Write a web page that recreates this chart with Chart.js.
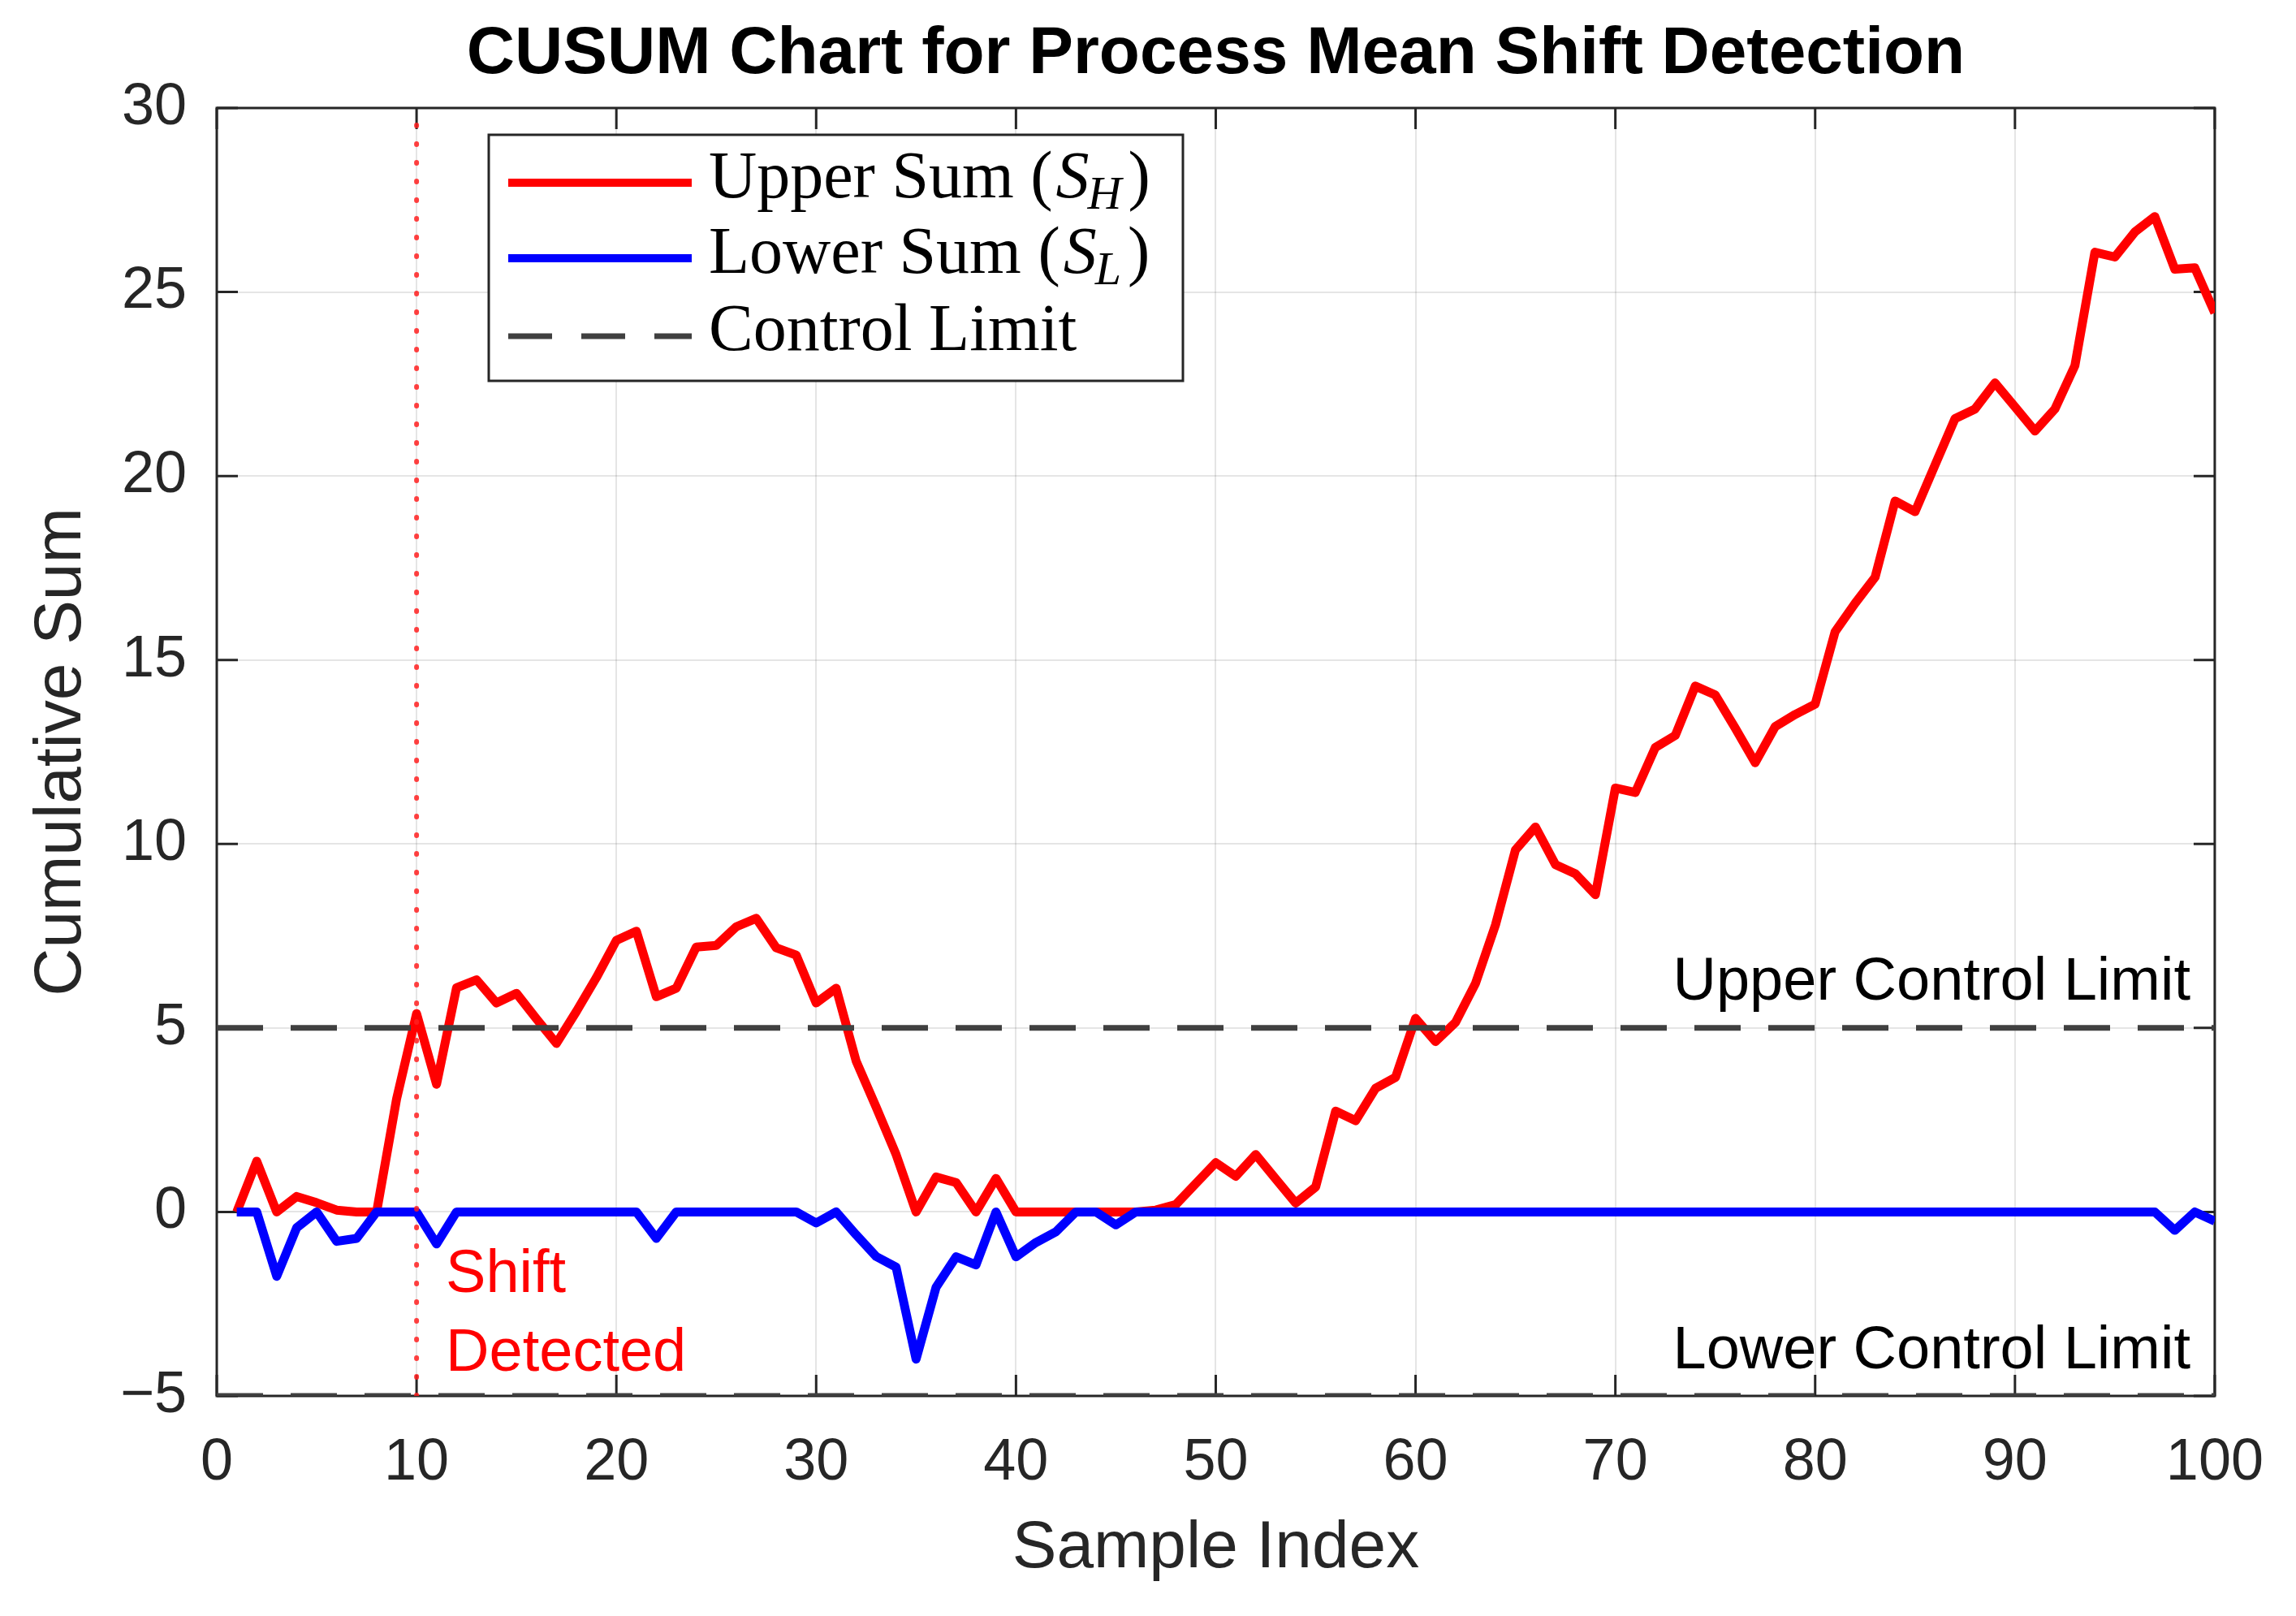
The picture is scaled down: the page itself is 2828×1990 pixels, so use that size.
<!DOCTYPE html>
<html>
<head>
<meta charset="utf-8">
<title>CUSUM Chart for Process Mean Shift Detection</title>
<script src="https://cdn.jsdelivr.net/npm/chart.js@4.4.1/dist/chart.umd.min.js"></script>
<style>
  html, body { margin: 0; padding: 0; background: #fff; }
  canvas { display: block; }
</style>
</head>
<body>
<canvas id="cusum" width="2828" height="1990"></canvas>
<script>
// sample index (x) and the two cumulative sums
const sampleIndex = Array.from({ length: 100 }, (_, i) => i + 1);

const upperSum = [
  0, 1.38, 0, 0.42, 0.25, 0.05, 0, 0, 3.07, 5.39,
  3.47, 6.09, 6.31, 5.68, 5.94, 5.25, 4.58, 5.45, 6.37, 7.38,
  7.63, 5.85, 6.08, 7.20, 7.24, 7.75, 7.98, 7.18, 6.98, 5.68,
  6.08, 4.10, 2.85, 1.56, 0, 0.95, 0.80, 0, 0.91, 0,
  0, 0, 0, 0, 0, 0, 0.05, 0.20, 0.77, 1.34,
  0.97, 1.56, 0.90, 0.24, 0.68, 2.74, 2.48, 3.36, 3.66, 5.26,
  4.63, 5.15, 6.21, 7.80, 9.84, 10.46, 9.44, 9.19, 8.62, 11.52,
  11.40, 12.62, 12.95, 14.29, 14.05, 13.15, 12.21, 13.19, 13.52, 13.80,
  15.77, 16.54, 17.25, 19.32, 19.03, 20.30, 21.56, 21.82, 22.53, 21.88,
  21.22, 21.82, 23.00, 26.08, 25.95, 26.63, 27.05, 25.62, 25.66, 24.43
];

const lowerSum = [
  0, 0, -1.75, -0.43, 0, -0.80, -0.72, 0, 0, 0,
  -0.87, 0, 0, 0, 0, 0, 0, 0, 0, 0,
  0, -0.72, 0, 0, 0, 0, 0, 0, 0, -0.30,
  0, -0.62, -1.21, -1.50, -4.00, -2.05, -1.22, -1.44, 0, -1.22,
  -0.83, -0.54, 0, 0, -0.35, 0, 0, 0, 0, 0,
  0, 0, 0, 0, 0, 0, 0, 0, 0, 0,
  0, 0, 0, 0, 0, 0, 0, 0, 0, 0,
  0, 0, 0, 0, 0, 0, 0, 0, 0, 0,
  0, 0, 0, 0, 0, 0, 0, 0, 0, 0,
  0, 0, 0, 0, 0, 0, 0, -0.50, 0, -0.25
];

const controlLimit = 5;
const shiftSample = 10;
const xTicks = [0, 10, 20, 30, 40, 50, 60, 70, 80, 90, 100];
const yTicks = [-5, 0, 5, 10, 15, 20, 25, 30];

const axisColor = '#262626';
const sans = '"Liberation Sans", Arial, Helvetica, sans-serif';
const serif = '"Liberation Serif", "Times New Roman", serif';

const toPoints = (ys) => ys.map((y, i) => ({ x: sampleIndex[i], y: y }));
const xMin = xTicks[0], xMax = xTicks[xTicks.length - 1];

// box, inward ticks, title, legend and text notes, drawn around the library's scales
const matlabFrame = {
  id: 'matlabFrame',
  beforeDatasetsDraw(chart) {
    const { ctx, chartArea: a, scales: { x, y } } = chart;
    const tl = 26;
    ctx.save();
    ctx.strokeStyle = axisColor;
    ctx.lineWidth = 3;
    ctx.beginPath();
    xTicks.forEach(v => {
      const px = x.getPixelForValue(v);
      ctx.moveTo(px, a.bottom); ctx.lineTo(px, a.bottom - tl);
      ctx.moveTo(px, a.top); ctx.lineTo(px, a.top + tl);
    });
    yTicks.forEach(v => {
      const py = y.getPixelForValue(v);
      ctx.moveTo(a.left, py); ctx.lineTo(a.left + tl, py);
      ctx.moveTo(a.right, py); ctx.lineTo(a.right - tl, py);
    });
    ctx.stroke();
    ctx.strokeRect(a.left, a.top, a.right - a.left, a.bottom - a.top);
    ctx.restore();
  },
  afterDraw(chart) {
    const { ctx, chartArea: a, scales: { x, y } } = chart;
    ctx.save();

    // title, centred over the axes like MATLAB does
    ctx.font = 'bold 82px ' + sans;
    ctx.fillStyle = '#000';
    ctx.textAlign = 'center';
    ctx.textBaseline = 'middle';
    ctx.fillText('CUSUM Chart for Process Mean Shift Detection', (a.left + a.right) / 2, a.top - 66);

    // notes on the plot
    ctx.font = '74px ' + sans;
    ctx.textBaseline = 'alphabetic';
    ctx.textAlign = 'right';
    ctx.fillText('Upper Control Limit', x.getPixelForValue(xMax) - 30, y.getPixelForValue(controlLimit) - 35);
    ctx.fillText('Lower Control Limit', x.getPixelForValue(xMax) - 30, y.getPixelForValue(-controlLimit) - 34);
    ctx.textAlign = 'left';
    ctx.fillStyle = '#ff0000';
    const sx = x.getPixelForValue(shiftSample) + 36;
    ctx.fillText('Shift', sx, y.getPixelForValue(-controlLimit) - 128);
    ctx.fillText('Detected', sx, y.getPixelForValue(-controlLimit) - 31);

    // legend
    const left = a.left + 335, top = a.top + 33, w = 855, h = 303;
    ctx.fillStyle = '#fff';
    ctx.fillRect(left, top, w, h);
    ctx.lineWidth = 3;
    ctx.strokeStyle = axisColor;
    ctx.strokeRect(left, top, w, h);

    const rows = [
      { color: '#ff0000', dash: [], width: 10, ly: 59, by: 77, label: 'Upper Sum', sub: 'H' },
      { color: '#0000ff', dash: [], width: 10, ly: 152, by: 170, label: 'Lower Sum', sub: 'L' },
      { color: '#404040', dash: [54, 36], width: 7, ly: 248, by: 265, label: 'Control Limit', sub: null }
    ];
    rows.forEach(r => {
      ctx.beginPath();
      ctx.setLineDash(r.dash);
      ctx.lineCap = 'butt';
      ctx.strokeStyle = r.color;
      ctx.lineWidth = r.width;
      ctx.moveTo(left + 24, top + r.ly);
      ctx.lineTo(left + 250, top + r.ly);
      ctx.stroke();
      ctx.setLineDash([]);

      let tx = left + 271;
      const ty = top + r.by;
      ctx.fillStyle = '#000';
      ctx.textAlign = 'left';
      ctx.font = '82px ' + serif;
      if (!r.sub) {
        ctx.fillText(r.label, tx, ty);
        return;
      }
      const head = r.label + ' (';
      ctx.fillText(head, tx, ty);
      tx += ctx.measureText(head).width + 4;
      ctx.font = 'italic 82px ' + serif;
      ctx.fillText('S', tx, ty);
      tx += ctx.measureText('S').width - 2;
      ctx.font = 'italic 58px ' + serif;
      ctx.fillText(r.sub, tx, ty + 14);
      tx += ctx.measureText(r.sub).width + 8;
      ctx.font = '82px ' + serif;
      ctx.fillText(')', tx, ty);
    });
    ctx.restore();
  }
};

new Chart(document.getElementById('cusum'), {
  type: 'line',
  data: {
    datasets: [
      {
        label: 'Shift Detected',
        data: [{ x: shiftSample, y: yTicks[0] }, { x: shiftSample, y: yTicks[yTicks.length - 1] }],
        borderColor: 'rgba(255, 30, 30, 0.85)',
        borderWidth: 6,
        borderDash: [1, 22],
        borderCapStyle: 'round',
        pointRadius: 0,
        order: 0
      },
      {
        label: 'Upper Control Limit',
        data: [{ x: xMin, y: controlLimit }, { x: xMax, y: controlLimit }],
        borderColor: '#404040',
        borderWidth: 7,
        borderDash: [57, 34],
        pointRadius: 0,
        order: 1
      },
      {
        label: 'Lower Control Limit',
        data: [{ x: xMin, y: -controlLimit }, { x: xMax, y: -controlLimit }],
        borderColor: '#404040',
        borderWidth: 7,
        borderDash: [57, 34],
        pointRadius: 0,
        order: 1
      },
      {
        label: 'Lower Sum (S_L)',
        data: toPoints(lowerSum),
        borderColor: '#0000ff',
        borderWidth: 11,
        borderJoinStyle: 'round',
        pointRadius: 0,
        order: 2
      },
      {
        label: 'Upper Sum (S_H)',
        data: toPoints(upperSum),
        borderColor: '#ff0000',
        borderWidth: 11,
        borderJoinStyle: 'round',
        pointRadius: 0,
        order: 3
      }
    ]
  },
  options: {
    responsive: false,
    devicePixelRatio: 1,
    animation: false,
    layout: { padding: { left: 0, right: 87, top: 133, bottom: 0 } },
    plugins: {
      legend: { display: false },
      tooltip: { enabled: false },
      title: { display: false }
    },
    scales: {
      x: {
        type: 'linear',
        min: xMin,
        max: xMax,
        afterFit(scale) { scale.height = 271; },
        ticks: {
          stepSize: 10,
          color: axisColor,
          padding: 40,
          maxRotation: 0,
          font: { family: sans, size: 72 }
        },
        grid: { color: 'rgba(0, 0, 0, 0.1)', lineWidth: 2, drawTicks: false },
        border: { display: false },
        title: {
          display: true,
          text: 'Sample Index',
          color: axisColor,
          font: { family: sans, size: 82 },
          padding: { top: 0, bottom: 33 }
        }
      },
      y: {
        type: 'linear',
        min: yTicks[0],
        max: yTicks[yTicks.length - 1],
        afterFit(scale) { scale.width = 267; },
        ticks: {
          stepSize: 5,
          color: axisColor,
          padding: 37,
          font: { family: sans, size: 72 },
          callback: v => (v < 0 ? '\u2212' + Math.abs(v) : String(v))
        },
        grid: { color: 'rgba(0, 0, 0, 0.1)', lineWidth: 2, drawTicks: false },
        border: { display: false },
        title: {
          display: true,
          text: 'Cumulative Sum',
          color: axisColor,
          font: { family: sans, size: 82 },
          padding: { top: 27, bottom: 0 }
        }
      }
    }
  },
  plugins: [matlabFrame]
});
</script>
</body>
</html>
